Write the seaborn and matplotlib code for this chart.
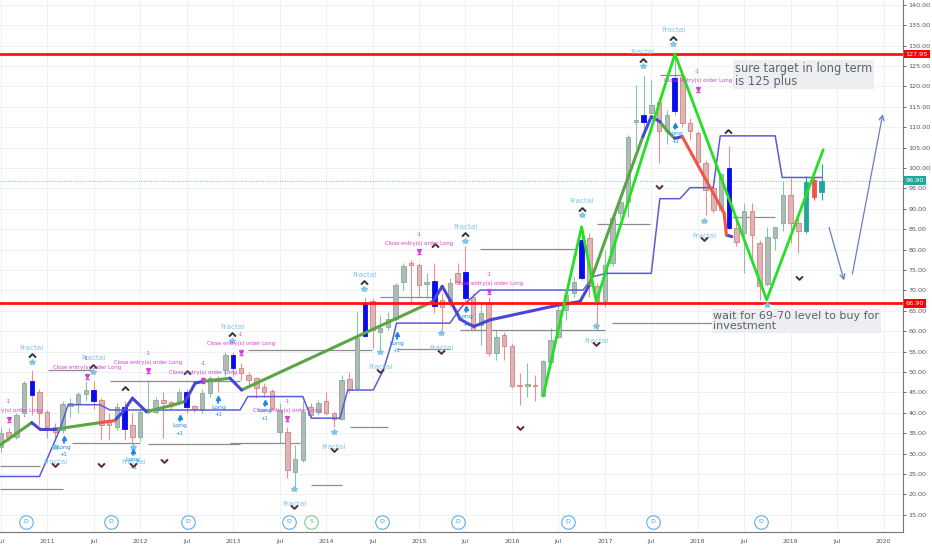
import numpy as np
import pandas as pd
import matplotlib
matplotlib.use('Agg')
import matplotlib.pyplot as plt
import matplotlib.transforms as mtrans
from matplotlib.path import Path
from matplotlib.ticker import FormatStrFormatter
import seaborn as sns

sns.set_theme(style='white')
plt.rcParams['font.family'] = ['DejaVu Sans']

# monthly candles, month 0 = Jul 2010 ... month 106 = May 2019
opens = [31.7, 35.2, 34.2, 39.9, 47.7, 45.2, 40.3, 36.6, 35.8, 41.8,
         42.2, 44.6, 45.5, 43.2, 38.3, 36.6, 41.5, 37.1, 34.0, 40.3,
         40.3, 43.2, 42.6, 42.4, 45.2, 41.7, 40.7, 44.8, 48.5, 50.5,
         54.2, 50.9, 49.3, 48.5, 46.4, 45.4, 35.2, 35.2, 25.6, 28.5,
         41.5, 40.1, 42.8, 39.9, 38.4, 48.2, 46.0, 58.9, 67.5, 59.7,
         61.0, 63.0, 72.2, 76.7, 76.3, 71.5, 72.4, 67.7, 66.7, 74.2,
         74.6, 68.5, 61.6, 66.9, 54.6, 59.1, 56.3, 46.8, 46.5, 46.8,
         44.2, 52.4, 58.5, 65.2, 69.3, 73.0, 82.8, 71.0, 67.3, 76.7,
         88.9, 91.6, 111.4, 111.4, 113.6, 116.3, 109.0, 113.9, 122.4, 111.0,
         108.5, 101.3, 95.1, 89.8, 100.0, 85.3, 84.2, 89.6, 81.6, 71.6,
         82.8, 86.6, 93.4, 86.5, 84.7, 97.1, 94.2]
highs = [36.6, 36.2, 40.0, 47.8, 50.5, 45.8, 40.8, 37.5, 43.0, 43.6,
         45.2, 47.7, 47.7, 43.6, 39.9, 42.4, 42.8, 39.9, 41.0, 48.0,
         44.0, 45.2, 43.0, 45.8, 45.8, 42.0, 45.8, 49.0, 49.0, 55.0,
         55.0, 52.2, 50.1, 48.9, 47.2, 45.8, 42.3, 36.5, 32.1, 42.8,
         42.3, 43.1, 45.2, 40.3, 49.3, 50.1, 64.8, 68.5, 68.1, 64.0,
         64.8, 71.8, 76.7, 77.5, 76.7, 74.2, 76.7, 69.3, 73.0, 76.7,
         80.8, 69.3, 66.9, 68.5, 60.3, 59.9, 57.1, 49.7, 52.2, 49.3,
         53.0, 60.7, 66.5, 70.1, 73.4, 85.6, 84.0, 71.8, 80.0, 88.5,
         92.6, 108.1, 120.4, 122.8, 121.6, 117.1, 114.2, 127.95, 123.2, 112.2,
         109.0, 102.0, 95.9, 98.8, 105.3, 87.3, 91.4, 91.4, 82.4, 85.6,
         85.6, 96.7, 97.5, 88.1, 98.1, 97.9, 101.0]
lows = [30.5, 33.0, 33.5, 39.0, 39.5, 37.0, 33.8, 33.0, 35.0, 39.0,
        39.9, 43.0, 41.0, 33.4, 33.4, 35.8, 33.4, 32.6, 33.0, 39.8,
        39.9, 33.8, 41.0, 42.0, 39.9, 40.2, 39.9, 44.0, 45.2, 49.0,
        49.0, 48.1, 46.4, 43.6, 44.0, 40.7, 32.6, 24.0, 21.5, 28.0,
        39.1, 39.5, 39.5, 36.6, 38.2, 44.8, 45.6, 58.5, 56.0, 55.4,
        60.3, 62.5, 70.1, 66.9, 68.5, 68.1, 64.4, 60.3, 66.0, 71.5,
        67.5, 60.0, 56.7, 54.0, 53.0, 53.0, 46.1, 42.0, 44.0, 42.8,
        44.0, 52.2, 58.3, 62.8, 68.5, 72.5, 68.5, 60.3, 66.0, 76.0,
        87.7, 88.0, 105.0, 109.4, 113.4, 101.2, 106.0, 113.0, 110.0, 107.0,
        101.0, 88.5, 89.0, 89.3, 85.0, 80.8, 74.2, 76.7, 67.7, 71.0,
        80.0, 84.5, 81.6, 79.1, 84.0, 92.2, 92.2]
closes = [35.0, 34.2, 39.5, 47.3, 44.4, 39.9, 36.6, 35.4, 42.2, 42.4,
          44.6, 45.5, 42.8, 37.1, 37.1, 41.5, 36.0, 34.0, 40.3, 40.8,
          43.2, 42.4, 42.0, 45.2, 41.5, 40.9, 44.8, 48.5, 48.1, 54.3,
          51.0, 49.7, 48.1, 46.0, 45.0, 41.1, 40.7, 26.0, 28.6, 40.3,
          39.5, 42.3, 39.9, 38.4, 48.1, 45.5, 58.3, 67.0, 60.3, 60.7,
          63.0, 71.4, 76.0, 76.3, 71.4, 72.0, 66.2, 65.9, 71.8, 72.0,
          68.1, 60.3, 64.4, 54.6, 58.7, 56.3, 46.5, 46.6, 47.1, 46.6,
          52.6, 57.9, 65.2, 68.9, 72.2, 82.4, 71.0, 67.3, 76.3, 87.7,
          91.6, 107.7, 111.8, 113.0, 115.5, 109.0, 113.0, 122.0, 111.0, 109.0,
          101.6, 94.6, 89.8, 98.6, 85.3, 82.0, 89.6, 83.6, 71.0, 83.0,
          85.5, 93.4, 86.6, 84.5, 96.7, 93.0, 96.9]
signal_bars = [4, 12, 16, 24, 30, 47, 56, 60, 75, 83, 87, 94]
live_bars = [104, 105, 106]

x_ticks = list(range(0, 115, 6))
x_labels = ['Jul', '2011', 'Jul', '2012', 'Jul', '2013', 'Jul', '2014', 'Jul', '2015',
            'Jul', '2016', 'Jul', '2017', 'Jul', '2018', 'Jul', '2019', 'Jul', '2020']

# trailing stop (thin step line)
stop_k = [-0.1, 5.0, 7.6, 8.7, 12.8, 14.1, 30.9, 31.9, 39.0, 40.1, 43.8, 44.8, 48.1, 49.4,
          50.6, 51.1, 58.0, 59.5, 61.9, 75.2, 76.5, 78.2, 84.0, 85.1, 87.7, 89.0, 92.0,
          92.9, 100.0, 100.9, 106.0]
stop_p = [24.4, 24.4, 35.8, 42.0, 42.0, 40.7, 40.7, 44.0, 44.0, 38.7, 38.7, 45.6, 45.6, 50.5,
          57.9, 62.0, 62.0, 66.0, 70.1, 70.1, 73.4, 74.2, 74.2, 92.5, 92.5, 95.2, 95.2,
          107.9, 107.9, 97.7, 97.7]

# trend line (thick, coloured by state)
trend_k = [-0.1, 2.05, 4.0, 5.06, 7.0, 12.8, 14.7, 15.8, 17.0, 18.8, 22.2, 23.8, 25.1, 26.1,
           29.6, 31.1, 55.8, 57.0, 58.0, 59.3, 60.2, 61.1, 63.2, 72.2, 74.8, 75.9, 82.9,
           84.0, 85.1, 86.1, 87.0, 88.0, 93.4, 93.7, 94.4]
trend_p = [32.1, 35.0, 37.6, 36.0, 36.0, 37.6, 38.1, 40.3, 43.6, 40.3, 41.9, 42.8, 47.3, 47.7,
           48.5, 45.6, 67.3, 71.0, 67.7, 63.0, 62.0, 61.2, 62.8, 66.5, 67.3, 71.0, 107.7,
           112.6, 111.4, 109.0, 107.3, 107.7, 89.0, 83.6, 83.2]
trend_state = (['up', 'up', 'flat', 'flat', 'up', 'down', 'flat', 'flat', 'flat', 'up', 'up',
                'flat', 'flat', 'up', 'flat', 'up'] + ['flat'] * 9 +
               ['up', 'flat', 'flat', 'up', 'up', 'flat', 'down', 'down', 'flat'])

# zigzag
zz_k = [70.05, 75.0, 76.9, 87.05, 98.9, 106.2]
zz_p = [44.2, 85.6, 67.3, 127.95, 67.7, 104.5]

# pivot levels (start month, end month, price)
lvl_k0 = [-0.1, -0.1, 6.1, 14.1, 9.2, 19.0, 31.9, 29.6, 40.0, 45.1, 49.0, 51.2, 59.3,
          61.9, 77.0, 78.9, 85.1, 94.4]
lvl_k1 = [5.06, 8.0, 11.8, 30.9, 18.0, 30.9, 47.9, 38.6, 44.1, 50.0, 55.8, 58.0, 78.0,
          74.1, 83.8, 92.0, 87.9, 100.0]
lvl_p = [27.0, 21.4, 50.4, 47.9, 32.7, 32.4, 55.4, 32.6, 22.4, 36.6, 68.4, 55.7, 60.3,
         80.1, 86.3, 62.1, 122.8, 87.9]

h_lines = [127.95, 66.90]
last_price = 96.90

frac_top_k = [4.0, 11.9, 29.9, 46.9, 60.0, 75.0, 86.8, 82.9]
frac_top_p = [52.5, 50.0, 57.7, 70.4, 82.2, 88.4, 130.4, 125.0]
peak_k = [16.0, 24.1, 56.1, 93.9]
peak_p = [46.1, 49.9, 81.2, 109.1]
frac_bot_k = [7.0, 17.1, 37.9, 43.0, 49.0, 56.9, 76.9, 90.8]
frac_bot_p = [31.7, 31.7, 21.4, 35.4, 54.8, 59.5, 61.3, 87.1]
trough_k = [13.0, 21.1, 67.0, 85.0, 103.1, 98.9]
trough_p = [27.3, 28.1, 36.2, 95.3, 73.0, 62.0]
lone_star_k = [98.9]
lone_star_p = [66.5]

close_k = [1.0, 11.1, 19.0, 26.1, 31.0, 37.0, 54.0, 63.1, 90.0]
close_p = [40.5, 51.1, 52.4, 49.9, 56.9, 40.7, 81.6, 71.8, 121.4]
long_k = [8.1, 17.1, 23.1, 28.1, 34.1, 51.1, 60.1, 87.1]
long_p = [33.4, 30.3, 38.7, 43.2, 42.4, 58.9, 65.4, 110.3]

div_k = [3.2, 14.2, 24.2, 37.2, 49.2, 59.0, 73.2, 84.2, 98.1]
split_k = [40.1]
marker_row = 13.3

note_up = 'sure target in long term\nis 125 plus'
note_dn = 'wait for 69-70 level to buy for\ninvestment'

# ---------------------------------------------------------------
fig = plt.figure(figsize=(9.32, 5.5), dpi=100)
ax = fig.add_axes([0, 18 / 550, 903 / 932, 532 / 550])
ax.set_xlim(-0.1, 116.5)
ax.set_ylim(10.8, 141.2)
px = (141.2 - 10.8) / 532  # price units per pixel

ax.set_yticks(np.arange(15, 141, 5))
ax.set_xticks(x_ticks, x_labels)
ax.grid(True, color='#eff1f5', lw=0.7, zorder=0)
ax.yaxis.tick_right()
ax.yaxis.set_major_formatter(FormatStrFormatter('%.2f'))
ax.tick_params(axis='y', labelsize=4.6, colors='#555555', length=2.5, width=0.6, pad=1.5)
ax.tick_params(axis='x', labelsize=4.4, colors='#555555', length=2.5, width=0.6, pad=2.5)
for s in ['left', 'top']:
    ax.spines[s].set_visible(False)
for s in ['right', 'bottom']:
    ax.spines[s].set_color('#777777')
    ax.spines[s].set_linewidth(0.8)

# candles
o = np.array(opens); h = np.array(highs); l = np.array(lows); c = np.array(closes)
m = np.arange(len(o))
up = c >= o
fill = np.where(up, '#b5b9b6', '#dab7b7').astype(object)
edge = np.where(up, '#7fae99', '#e07c7c').astype(object)
wick = np.where(up, '#86c4a8', '#f08e8e').astype(object)
for i in signal_bars:
    fill[i] = edge[i] = '#0b0bef'
for i in live_bars:
    col = '#26a69a' if up[i] else '#ef5350'
    fill[i] = edge[i] = wick[i] = col
ax.vlines(m, l, h, colors=list(wick), lw=0.8, zorder=3)
ax.bar(m, np.maximum(np.abs(c - o), 0.3), bottom=np.minimum(o, c), width=0.58,
       color=list(fill), edgecolor=list(edge), lw=0.6, zorder=4)

# levels and horizontal lines
ax.hlines(lvl_p, lvl_k0, lvl_k1, color='#8c8c8c', lw=0.9, zorder=3)
ax.axhline(last_price, color='#7cc7bd', lw=0.7, ls=(0, (1, 1.5)), zorder=2)
for v in h_lines:
    ax.axhline(v, color='#ff1414', lw=2.0, zorder=7)

# stop line
sns.lineplot(x=stop_k, y=stop_p, ax=ax, color='#5b5bd8', lw=1.1, estimator=None,
             sort=False, zorder=5)

# trend line, one unit per segment
rows = []
for i, st in enumerate(trend_state):
    rows.append((i, trend_k[i], trend_p[i], st))
    rows.append((i, trend_k[i + 1], trend_p[i + 1], st))
trend = pd.DataFrame(rows, columns=['seg', 'k', 'p', 'state'])
sns.lineplot(data=trend, x='k', y='p', hue='state', units='seg', estimator=None, sort=False,
             palette={'up': '#5aa545', 'down': '#f05548', 'flat': '#4747d6'}, lw=2.2,
             solid_capstyle='round', legend=False, ax=ax, zorder=6)

sns.lineplot(x=zz_k, y=zz_p, ax=ax, color='#22e022', lw=2.0, estimator=None, sort=False,
             zorder=7)

# fractal marks
chev_up = Path([(-1, -0.6), (0, 0.4), (1, -0.6)], [Path.MOVETO, Path.LINETO, Path.LINETO])
chev_dn = Path([(-1, 0.6), (0, -0.4), (1, 0.6)], [Path.MOVETO, Path.LINETO, Path.LINETO])
star_col = '#7fc6e4'
tk = np.array(frac_top_k); tp = np.array(frac_top_p)
ax.plot(tk, tp, ls='none', marker='*', ms=4, color=star_col, zorder=8)
ax.plot(np.r_[tk, peak_k], np.r_[tp + 6.5 * px, peak_p], ls='none', marker=chev_up, ms=5,
        mfc='none', mec='#333333', mew=1.4, zorder=8)
for k, p in zip(tk, tp):
    ax.text(k, p + 14 * px, 'Fractal', ha='center', va='center', fontsize=5.2,
            color=star_col, zorder=8)
bk = np.array(frac_bot_k); bp = np.array(frac_bot_p)
ax.plot(np.r_[bk, lone_star_k], np.r_[bp, lone_star_p], ls='none', marker='*', ms=4,
        color=star_col, zorder=8)
for k, p in zip(bk, bp):
    ax.text(k, p - 15 * px, 'Fractal', ha='center', va='center', fontsize=5.2,
            color=star_col, zorder=8)
ax.plot(np.r_[bk, trough_k], np.r_[bp - 18.5 * px, trough_p], ls='none', marker=chev_dn,
        ms=5, mfc='none', mec='#5a2a32', mew=1.4, zorder=9)

# strategy labels
mag = '#d53fd5'
for k, p in zip(close_k, close_p):
    ax.text(k, p, 'Close entry(s) order Long', ha='center', va='center', fontsize=3.9,
            color=mag, zorder=8)
    ax.text(k, p + 9 * px, '-1', ha='center', va='center', fontsize=3.8, color=mag, zorder=8)
    ax.plot([k], [p - 8 * px], marker='v', ms=2.8, color=mag, zorder=8)
    ax.plot([k], [p - 11 * px], marker='_', ms=3.5, mew=1.0, color=mag, zorder=8)
blu = '#1e88e5'
for k, p in zip(long_k, long_p):
    ax.plot([k, k], [p - 3 * px, p + 1 * px], color=blu, lw=1.3, zorder=8)
    ax.plot([k], [p + 1.5 * px], marker='^', ms=3, color=blu, zorder=8)
    ax.text(k, p - 7.5 * px, 'Long', ha='center', va='center', fontsize=4.4,
            color=blu, zorder=8)
    ax.text(k, p - 15 * px, '+1', ha='center', va='center', fontsize=3.8, color=blu, zorder=8)

# dividend / split markers
ax.scatter(div_k, [marker_row] * len(div_k), s=95, facecolors='white', edgecolors='#5aaef0',
           lw=0.8, zorder=8)
ax.scatter(split_k, [marker_row] * len(split_k), s=95, facecolors='white',
           edgecolors='#86c98a', lw=0.8, zorder=8)
for k in div_k:
    ax.text(k, marker_row, 'D', ha='center', va='center', fontsize=4.6, color='#3c9be8',
            zorder=9)
for k in split_k:
    ax.text(k, marker_row, 'S', ha='center', va='center', fontsize=4.6, color='#6cb870',
            zorder=9)

# user drawn arrows
arr = dict(arrowstyle='->', color='#6a7dc4', lw=0.9, mutation_scale=9)
ax.annotate('', xy=(109.0, 71.8), xytext=(106.85, 86.1), arrowprops=arr, zorder=9)
ax.annotate('', xy=(113.95, 113.9), xytext=(109.9, 73.4), arrowprops=arr, zorder=9)

# notes
box = dict(boxstyle='square,pad=0.15', fc='#eceef1', ec='none')
ax.text(94.8, 126.1, note_up, ha='left', va='top', fontsize=8.3, color='#5f6368',
        linespacing=1.0, bbox=box, zorder=10)
ax.text(92.0, 65.0, note_dn, ha='left', va='top', fontsize=8.0, color='#5f6368',
        linespacing=1.0, bbox=box, zorder=10)

# price labels on the axis
trans = mtrans.blended_transform_factory(ax.transAxes, ax.transData)
for v, col in [(h_lines[0], '#ff0000'), (last_price, '#26a69a'), (h_lines[1], '#ff0000')]:
    ax.text(1.003, v, f'{v:.2f}', transform=trans, ha='left', va='center', fontsize=4.6,
            color='white', bbox=dict(boxstyle='square,pad=0.3', fc=col, ec='none'),
            clip_on=False, zorder=11)

fig.savefig('out.png', dpi=100)
